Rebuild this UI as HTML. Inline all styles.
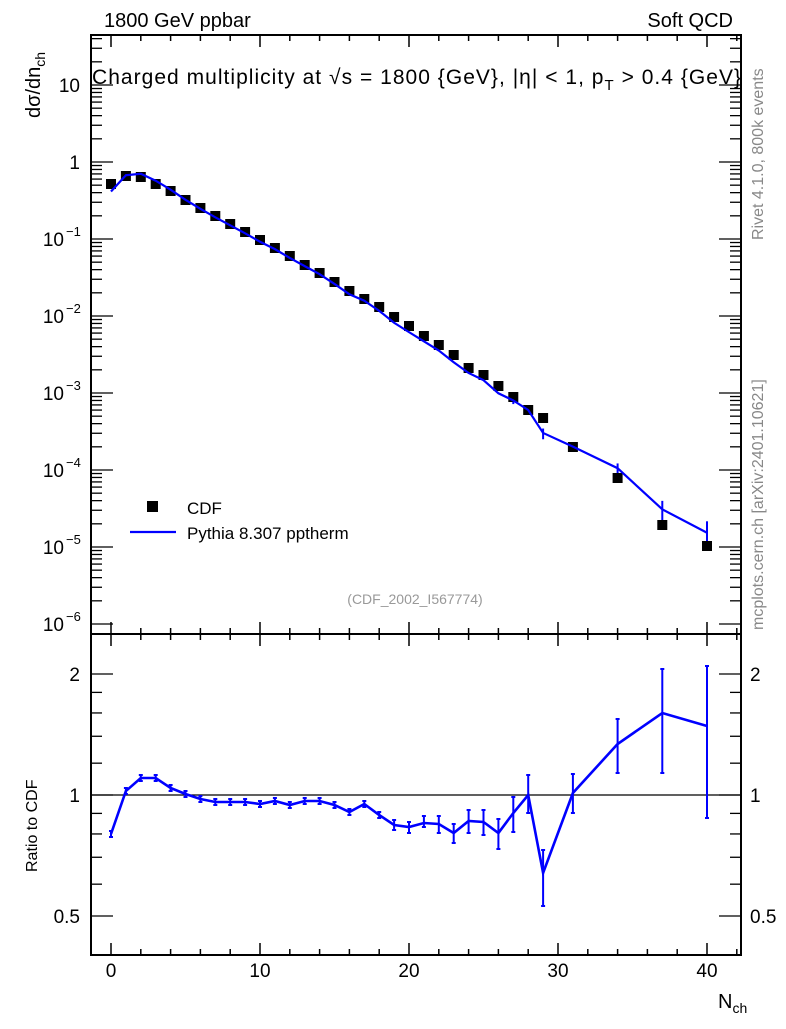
<!DOCTYPE html>
<html><head><style>
body{margin:0;background:#fff;}
svg text{font-family:"Liberation Sans",Arial,sans-serif;}
</style></head><body>
<svg id="s" width="786" height="1024" xmlns="http://www.w3.org/2000/svg"></svg>
<script>
const s=document.getElementById('s');let h='';
const L=91,R=741,T=35,MB=634,RB=955;
const X=n=>111+n*14.9;
const YM=v=>162-77*Math.log10(v);
const YR=r=>795-121*Math.log2(r);
const RY=y=>Math.pow(2,(795-y)/121);
h+=`<rect x="${L}" y="${T}" width="${R-L}" height="${MB-T}" fill="none" stroke="#000" stroke-width="2"/>`;
h+=`<rect x="${L}" y="${MB}" width="${R-L}" height="${RB-MB}" fill="none" stroke="#000" stroke-width="2"/>`;
for(let n=-1;n<=42;n++){const x=X(n);if(x<=L||x>=R)continue;const len=n%10==0?12:(n%2==0?6:0);if(!len)continue;
 for(const yb of [MB,RB]){h+=`<line x1="${x}" y1="${yb}" x2="${x}" y2="${yb-len}" stroke="#000" stroke-width="1.5"/>`;}
 for(const yt of [T,MB]){h+=`<line x1="${x}" y1="${yt}" x2="${x}" y2="${yt+len}" stroke="#000" stroke-width="1.5"/>`;}
 if(n%10==0)h+=`<text x="${x}" y="977" font-size="19" text-anchor="middle">${n}</text>`;}
for(let e=-6;e<=1;e++){for(let m=1;m<10;m++){const v=m*Math.pow(10,e);const y=YM(v);if(y<T||y>MB)continue;const len=m==1?22:11;
 h+=`<line x1="${L}" y1="${y}" x2="${L+len}" y2="${y}" stroke="#000" stroke-width="1.3"/><line x1="${R}" y1="${y}" x2="${R-len}" y2="${y}" stroke="#000" stroke-width="1.3"/>`;}
 const y=YM(Math.pow(10,e));
 if(e==1)h+=`<text x="80" y="${y+7}" font-size="19" text-anchor="end">10</text>`;
 else if(e==0)h+=`<text x="80" y="${y+7}" font-size="19" text-anchor="end">1</text>`;
 else h+=`<text x="64" y="${y+7}" font-size="19" text-anchor="end">10</text><text x="66" y="${y-3}" font-size="13">${'\u2212'+(-e)}</text>`;}
for(const r of [0.5,0.6,0.7,0.8,0.9,1,1.2,1.4,1.6,1.8,2]){const y=YR(r);const len=(r==0.5||r==1||r==2)?22:11;
 h+=`<line x1="${L}" y1="${y}" x2="${L+len}" y2="${y}" stroke="#000" stroke-width="1.3"/><line x1="${R}" y1="${y}" x2="${R-len}" y2="${y}" stroke="#000" stroke-width="1.3"/>`;}
[[2,'2'],[1,'1'],[0.5,'0.5']].forEach(([r,t])=>{const y=YR(r)+7;h+=`<text x="80" y="${y}" font-size="19" text-anchor="end">${t}</text><text x="750" y="${y}" font-size="19">${t}</text>`;});
h+=`<line x1="${L}" y1="${YR(1)}" x2="${R}" y2="${YR(1)}" stroke="#000" stroke-width="1.2"/>`;
const N=[0,1,2,3,4,5,6,7,8,9,10,11,12,13,14,15,16,17,18,19,20,21,22,23,24,25,26,27,28,29,31,34,37,40];
const P=[184,176,177,184,191,200,208,216,224,232,240,248,256,265,273,282,291,299,307,317,326,336,345,355,368,375,386,397,410,418,447,478,525,546];
const RP=[834,791,778,778,788,794,799,802,802,802,804,801,805,801,801,805,812,804,815,825,827,823,824,833,821,822,833,813,795,873,793,744,713,726];
const EP={19:[820,830],20:[822,833],21:[816,827],22:[816,833],23:[824,843],24:[810,833],25:[810,835],26:[819,849],27:[797,832],28:[775,813],29:[850,906],31:[774,813],34:[719,773],37:[669,773],40:[666,818]};
let pm='',pr='';
N.forEach((n,i)=>{const x=X(n);const cv=Math.pow(10,(162-P[i])/77);const r=RY(RP[i]);const y=YM(cv*r);pm+=(i?'L':'M')+x+' '+y;pr+=(i?'L':'M')+x+' '+RP[i];
 const [a,b]=EP[n]||[RP[i]-3,RP[i]+3];
 h+=`<line x1="${x}" y1="${a}" x2="${x}" y2="${b}" stroke="#00f" stroke-width="2"/><line x1="${x-2}" y1="${a}" x2="${x+2}" y2="${a}" stroke="#00f" stroke-width="2"/><line x1="${x-2}" y1="${b}" x2="${x+2}" y2="${b}" stroke="#00f" stroke-width="2"/>`;
 if(n>=27){h+=`<line x1="${x}" y1="${YM(cv*RY(a))}" x2="${x}" y2="${YM(cv*RY(b))}" stroke="#00f" stroke-width="2"/>`;}
 h+=`<rect x="${x-5}" y="${P[i]-5}" width="10" height="10" fill="#000"/>`;});
h+=`<path d="${pm}" fill="none" stroke="#00f" stroke-width="2.2"/><path d="${pr}" fill="none" stroke="#00f" stroke-width="2.6"/>`;
h+=`<text x="104" y="27" font-size="20">1800 GeV ppbar</text><text x="733" y="27" font-size="20" text-anchor="end">Soft QCD</text>`;
h+=`<text x="92" y="84" font-size="21" textLength="649" lengthAdjust="spacing">Charged multiplicity at √s = 1800 {GeV}, |η| &lt; 1, p<tspan font-size="15" dy="6">T</tspan><tspan dy="-6"> &gt; 0.4 {GeV}</tspan></text>`;
h+=`<text transform="translate(40,118) rotate(-90)" font-size="20">dσ/dn<tspan font-size="14" dy="5">ch</tspan></text>`;
h+=`<text transform="translate(37,872) rotate(-90)" font-size="16">Ratio to CDF</text>`;
h+=`<text x="718" y="1008" font-size="20">N<tspan font-size="14" dy="5">ch</tspan></text>`;
h+=`<text transform="translate(763,240) rotate(-90)" font-size="16" fill="#888">Rivet 4.1.0,  800k events</text>`;
h+=`<text transform="translate(763,630) rotate(-90)" font-size="16" fill="#888">mcplots.cern.ch [arXiv:2401.10621]</text>`;
h+=`<text x="415" y="604" font-size="14" fill="#999" text-anchor="middle">(CDF_2002_I567774)</text>`;
h+=`<rect x="147" y="501" width="11" height="11" fill="#000"/><text x="187" y="514" font-size="17">CDF</text>`;
h+=`<line x1="130" y1="532" x2="176" y2="532" stroke="#00f" stroke-width="2.2"/><text x="187" y="539" font-size="17">Pythia 8.307 pptherm</text>`;
s.innerHTML=h;
</script></body></html>
